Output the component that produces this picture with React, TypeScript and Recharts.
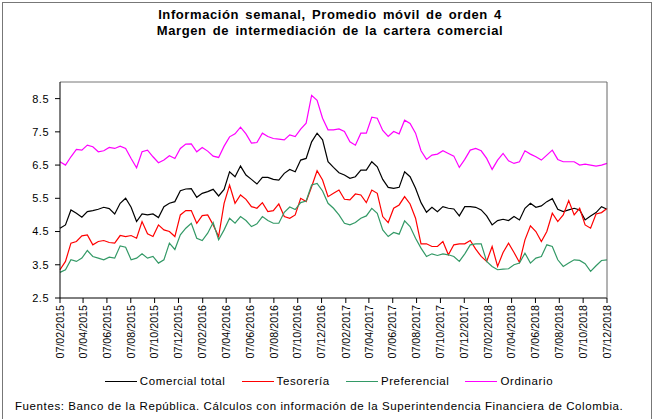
import { Line, LineChart, ReferenceLine, XAxis, YAxis } from 'recharts';

const tickLabels = [
  '07/02/2015', '07/04/2015', '07/06/2015', '07/08/2015', '07/10/2015', '07/12/2015',
  '07/02/2016', '07/04/2016', '07/06/2016', '07/08/2016', '07/10/2016', '07/12/2016',
  '07/02/2017', '07/04/2017', '07/06/2017', '07/08/2017', '07/10/2017', '07/12/2017',
  '07/02/2018', '07/04/2018', '07/06/2018', '07/08/2018', '07/10/2018', '07/12/2018',
];

const yTicks = [2.5, 3.5, 4.5, 5.5, 6.5, 7.5, 8.5];

// values read roughly every two weeks from 07/02/2015 to 07/12/2018
const comercialTotal = [
  4.6, 4.7, 5.15, 5.05, 4.93, 5.1, 5.13, 5.17, 5.23, 5.19, 5.03, 5.35, 5.5, 5.23, 4.8, 5.03, 5.0, 5.03, 4.92, 5.25, 5.35,
  5.4, 5.73, 5.78, 5.79, 5.53, 5.65, 5.7, 5.77, 5.57, 5.77, 6.3, 6.15, 6.47, 6.2, 6.07, 5.93, 6.13, 6.13, 6.07, 6.05,
  6.25, 6.37, 6.3, 6.65, 6.7, 7.2, 7.46, 7.26, 6.6, 6.43, 6.27, 6.2, 6.1, 6.15, 6.35, 6.35, 6.6, 6.45, 6.07, 5.83,
  5.8, 5.83, 6.3, 6.15, 5.8, 5.37, 5.08, 5.23, 5.1, 5.25, 5.2, 5.18, 4.97, 5.25, 5.25, 5.23, 5.15, 4.97, 4.7, 4.83,
  4.87, 4.83, 4.95, 4.85, 5.2, 5.35, 5.23, 5.27, 5.4, 5.49, 5.17, 5.1, 5.15, 5.2, 5.15, 4.85, 4.97, 5.07, 5.25, 5.17,
];

const tesoreria = [
  3.35, 3.6, 4.15, 4.2, 4.37, 4.4, 4.1, 4.2, 4.23, 4.17, 4.15, 4.38, 4.35, 4.38, 4.3, 4.8, 4.43, 4.35, 4.7, 4.55, 4.5,
  4.35, 5.0, 5.13, 5.13, 4.75, 4.98, 5.0, 4.7, 4.35, 5.35, 5.9, 5.35, 5.6, 5.47, 5.25, 5.2, 5.37, 5.1, 5.13, 5.33,
  4.95, 4.9, 5.0, 5.5, 5.4, 5.85, 6.33, 6.05, 5.55, 5.65, 5.75, 5.47, 5.45, 5.63, 5.6, 5.37, 5.75, 5.65, 4.95, 4.77,
  5.2, 5.3, 5.55, 5.33, 4.9, 4.13, 4.13, 4.05, 4.05, 4.2, 3.8, 4.1, 4.13, 4.13, 4.23, 3.97, 3.75, 3.6, 4.05, 3.45,
  3.87, 4.15, 3.87, 3.57, 4.25, 4.67, 4.5, 4.2, 4.5, 5.05, 4.8, 5.0, 5.43, 5.0, 5.2, 4.7, 4.6, 5.03, 5.07, 5.19,
];

const preferencial = [
  3.27, 3.35, 3.65, 3.6, 3.7, 3.93, 3.75, 3.7, 3.65, 3.73, 3.7, 4.07, 4.03, 3.65, 3.7, 3.83, 3.7, 3.75, 3.55, 3.65, 4.15,
  3.96, 4.4, 4.6, 4.75, 4.3, 4.23, 4.45, 4.77, 4.25, 4.55, 4.9, 4.75, 4.95, 4.83, 4.65, 4.73, 4.95, 4.83, 4.75, 4.75,
  5.08, 5.24, 5.16, 5.37, 5.42, 5.9, 5.95, 5.72, 5.35, 5.2, 5.0, 4.75, 4.7, 4.77, 4.9, 4.97, 5.2, 5.05, 4.55, 4.35,
  4.47, 4.42, 4.82, 4.65, 4.3, 4.0, 3.75, 3.83, 3.78, 3.83, 3.8, 3.75, 3.6, 3.83, 4.1, 4.13, 4.13, 3.6, 3.45, 3.35,
  3.37, 3.38, 3.5, 3.55, 3.85, 3.55, 3.7, 3.75, 4.1, 4.05, 3.65, 3.45, 3.55, 3.65, 3.63, 3.53, 3.3, 3.47, 3.63, 3.65,
];

const ordinario = [
  6.6, 6.5, 6.75, 6.97, 6.95, 7.1, 7.05, 6.9, 6.93, 7.03, 7.0, 7.07, 7.0, 6.7, 6.42, 6.9, 6.95, 6.75, 6.57, 6.65, 6.78,
  6.7, 7.0, 7.13, 7.14, 6.9, 7.03, 6.92, 6.77, 6.73, 7.07, 7.35, 7.44, 7.64, 7.44, 7.16, 7.18, 7.46, 7.36, 7.3, 7.28,
  7.26, 7.41, 7.36, 7.58, 7.76, 8.6, 8.45, 7.91, 7.56, 7.56, 7.59, 7.51, 7.2, 7.1, 7.46, 7.46, 7.94, 7.91, 7.54, 7.36,
  7.51, 7.44, 7.85, 7.75, 7.46, 6.93, 6.67, 6.8, 6.83, 6.93, 6.85, 6.77, 6.43, 6.67, 6.95, 7.0, 6.93, 6.7, 6.37, 6.65,
  6.85, 6.63, 6.55, 6.6, 6.93, 6.83, 6.75, 6.65, 6.8, 6.95, 6.67, 6.6, 6.6, 6.6, 6.5, 6.53, 6.5, 6.47, 6.5, 6.55,
];

const series = [
  { key: 'comercial', name: 'Comercial total', color: '#000000', values: comercialTotal },
  { key: 'tesoreria', name: 'Tesorería', color: '#ff0000', values: tesoreria },
  { key: 'preferencial', name: 'Preferencial', color: '#339966', values: preferencial },
  { key: 'ordinario', name: 'Ordinario', color: '#ff00ff', values: ordinario },
];

const font = '"Liberation Sans", Arial, sans-serif';

const toDay = (s: string) => {
  const [d, m, y] = s.split('/').map(Number);
  return Date.UTC(y, m - 1, d) / 86400000;
};
const firstDay = toDay(tickLabels[0]);
const lastDay = toDay(tickLabels[tickLabels.length - 1]);
const steps = comercialTotal.length - 1;
const tickPositions = tickLabels.map((l) => ((toDay(l) - firstDay) / (lastDay - firstDay)) * steps);

const data = comercialTotal.map((_, i) => {
  const row: Record<string, number> = { i };
  series.forEach((s) => {
    row[s.key] = s.values[i];
  });
  return row;
});

const XTick = (props: any) => {
  const { x, y, index } = props;
  return (
    <text
      x={x}
      y={y}
      transform={`rotate(-90 ${x} ${y})`}
      textAnchor="end"
      dy="0.35em"
      fontSize={10.7}
      fontFamily={font}
      fill="#000"
    >
      {tickLabels[index]}
    </text>
  );
};

const yTick = { fontSize: 11, fontFamily: font, fill: '#000', letterSpacing: 0.5 };

export default function App() {
  return (
    <div
      style={{
        position: 'absolute',
        left: 0,
        top: 0,
        width: 656,
        height: 419,
        overflow: 'hidden',
        background: '#fff',
        fontFamily: font,
      }}
    >
      <div
        style={{
          position: 'absolute',
          left: 2,
          top: 2,
          width: 650,
          height: 430,
          border: '1px solid #777',
          boxSizing: 'border-box',
        }}
      />
      <div
        style={{
          position: 'absolute',
          left: 0,
          top: 7,
          width: 660,
          textAlign: 'center',
          fontWeight: 'bold',
          fontSize: 13,
          lineHeight: '16px',
          letterSpacing: 0.6,
          wordSpacing: 2,
        }}
      >
        <div>Información semanal, Promedio móvil de orden 4</div>
        <div>Margen de intermediación de la cartera comercial</div>
      </div>
      <div style={{ position: 'absolute', left: 0, top: 0 }}>
        <LineChart
          width={656}
          height={419}
          data={data}
          margin={{ top: 82, right: 0, left: 0, bottom: 51 }}
        >
          <XAxis
            dataKey="i"
            type="number"
            domain={[0, steps]}
            ticks={tickPositions}
            interval={0}
            height={70}
            tick={<XTick />}
            tickSize={5}
            tickLine={{ stroke: '#000' }}
            axisLine={{ stroke: '#000' }}
          />
          <YAxis
            yAxisId="left"
            domain={[2.5, 9]}
            ticks={yTicks}
            width={60}
            tickSize={5}
            tickMargin={6}
            tick={yTick}
            tickFormatter={(v: number) => v.toFixed(1)}
            tickLine={{ stroke: '#000' }}
            axisLine={{ stroke: '#000' }}
          />
          <YAxis
            yAxisId="right"
            orientation="right"
            domain={[2.5, 9]}
            ticks={yTicks}
            width={49}
            tickSize={5}
            tickMargin={3}
            tick={yTick}
            tickFormatter={(v: number) => v.toFixed(1)}
            tickLine={{ stroke: '#666' }}
            axisLine={{ stroke: '#666' }}
          />
          <ReferenceLine yAxisId="left" y={9} stroke="#777" />
          {series.map((s) => (
            <Line
              key={s.key}
              yAxisId="left"
              type="linear"
              dataKey={s.key}
              name={s.name}
              stroke={s.color}
              strokeWidth={1.2}
              dot={false}
              isAnimationActive={false}
            />
          ))}
        </LineChart>
      </div>
      <div
        style={{
          position: 'absolute',
          left: 0,
          top: 374,
          width: 658,
          display: 'flex',
          justifyContent: 'center',
          fontSize: 11.5,
          lineHeight: '14px',
          letterSpacing: 0.6,
        }}
      >
        {series.map((s) => (
          <div key={s.key} style={{ display: 'flex', alignItems: 'center', margin: '0 8px' }}>
            <span style={{ display: 'inline-block', width: 32, height: 1, background: s.color, marginRight: 3 }} />
            <span>{s.name}</span>
          </div>
        ))}
      </div>
      <div
        style={{
          position: 'absolute',
          left: 15,
          top: 399,
          fontSize: 11.5,
          lineHeight: '14px',
          letterSpacing: 0.6,
          whiteSpace: 'nowrap',
        }}
      >
        Fuentes: Banco de la República. Cálculos con información de la Superintendencia Financiera de Colombia.
      </div>
    </div>
  );
}
